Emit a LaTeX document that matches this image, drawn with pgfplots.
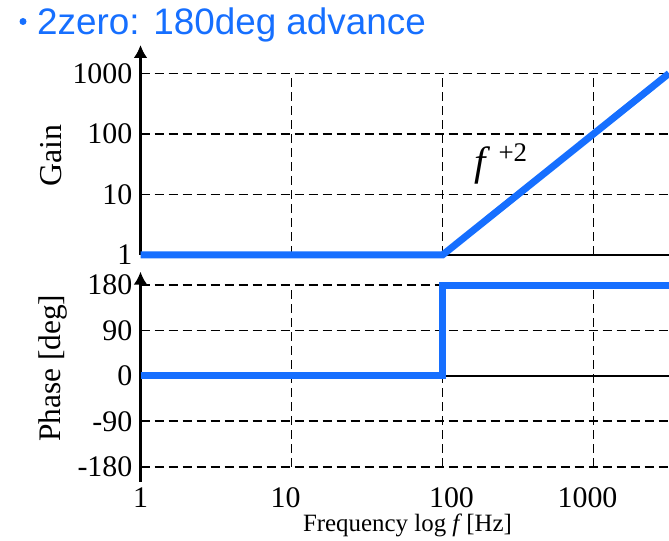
\documentclass[border=0pt]{standalone}
\usepackage{fontspec}
\setmainfont{Liberation Serif}
\newfontfamily\titlefont{Liberation Sans}
\usepackage{pgfplots}
\pgfplotsset{compat=1.18}
\usetikzlibrary{arrows.meta}
\definecolor{bblue}{RGB}{22,111,255}
\begin{document}
\begin{tikzpicture}
\path[use as bounding box] (0bp,0bp) rectangle (669bp,541bp);
\node[anchor=base west, inner sep=0, text=bblue, font=\titlefont\fontsize{37}{37}\selectfont] at (37bp,506bp) {2zero: 180deg advance};
\fill[bblue] (23bp,519.5bp) circle (3.5bp);
\node[rotate=90, anchor=base, inner sep=0, font=\fontsize{32}{32}\selectfont] at (61.7bp,385.2bp) {Gain};
\node[rotate=90, anchor=base, inner sep=0, font=\fontsize{31.5}{31.5}\selectfont] at (60bp,172.7bp) {Phase [deg]};
\node[anchor=base, inner sep=0, font=\fontsize{25}{25}\selectfont] at (407.5bp,10bp) {Frequency log \textit{f}\,[Hz]};

% Gain axis
\begin{axis}[at={(140.5bp,286bp)}, anchor=south west, scale only axis,
  width=528.5bp, height=210bp, xmode=log, ymode=log,
  xmin=1, xmax=3162.3, ymin=1, ymax=2951,
  axis x line=bottom, axis y line=left,
  axis line style={line width=2.6bp},
  x axis line style={-},
  y axis line style={-{Latex[length=13bp,width=14bp]}},
  xtick=\empty, ytick={1,10,100,1000}, yticklabels={1,10,100,1000},
  xminorticks=false, yminorticks=false,
  major tick length=0,
  yticklabel style={font=\fontsize{30}{30}\selectfont, inner sep=0, xshift=-8bp},
  /pgf/number format/assume math mode=true,
  clip=false]
\draw[dash pattern=on 9bp off 5bp, line width=1.6bp] (axis cs:1,10) -- (axis cs:3162.3,10);
\draw[dash pattern=on 9bp off 5bp, line width=1.6bp] (axis cs:1,100) -- (axis cs:3162.3,100);
\draw[dash pattern=on 9bp off 5bp, line width=1.6bp] (axis cs:1,1000) -- (axis cs:3162.3,1000);
\draw[dash pattern=on 9bp off 5bp, line width=1.6bp] (axis cs:10,1) -- (axis cs:10,1000);
\draw[dash pattern=on 9bp off 5bp, line width=1.6bp] (axis cs:100,1) -- (axis cs:100,1000);
\draw[dash pattern=on 9bp off 5bp, line width=1.6bp] (axis cs:1000,1) -- (axis cs:1000,1000);
\addplot[bblue, line width=7bp, line join=miter] coordinates {(1,1) (100,1) (3162.3,1000)};
\end{axis}
\node[anchor=base west, inner sep=0] at (474bp,365bp) {{\fontsize{41}{41}\selectfont\itshape f}\hspace{13bp}\raisebox{14bp}{\fontsize{27}{27}\selectfont +2}};

% Phase axis
\begin{axis}[at={(140.5bp,59.3bp)}, anchor=south west, scale only axis,
  width=528.5bp, height=210bp, xmode=log,
  xmin=1, xmax=3162.3, ymin=-209.7, ymax=206.4,
  axis x line=bottom, axis y line=left,
  axis line style={line width=2.6bp},
  x axis line style={draw=none,-},
  y axis line style={-{Latex[length=13bp,width=14bp]}},
  xtick={1,10,100,1000},
  xticklabels={1,\hspace*{-12bp}10,100\hspace*{-18bp},\hspace*{-12bp}1000},
  ytick={-180,-90,0,90,180}, yticklabels={-180,-90,0,90,180},
  xminorticks=false, yminorticks=false,
  major tick length=0,
  yticklabel style={font=\fontsize{30}{30}\selectfont, inner sep=0, xshift=-8bp},
  xticklabel style={font=\fontsize{30}{30}\selectfont, inner sep=0, anchor=north, yshift=-6bp},
  /pgf/number format/assume math mode=true,
  clip=false]
\draw[dash pattern=on 9bp off 5bp, line width=1.6bp] (axis cs:1,180) -- (axis cs:3162.3,180);
\draw[dash pattern=on 9bp off 5bp, line width=1.6bp] (axis cs:1,90) -- (axis cs:3162.3,90);
\draw[dash pattern=on 9bp off 5bp, line width=1.6bp] (axis cs:1,-90) -- (axis cs:3162.3,-90);
\draw[dash pattern=on 9bp off 5bp, line width=1.6bp] (axis cs:1,-180) -- (axis cs:3162.3,-180);
\draw[dash pattern=on 9bp off 5bp, line width=1.6bp] (axis cs:10,-180) -- (axis cs:10,180);
\draw[dash pattern=on 9bp off 5bp, line width=1.6bp] (axis cs:100,-180) -- (axis cs:100,180);
\draw[dash pattern=on 9bp off 5bp, line width=1.6bp] (axis cs:1000,-180) -- (axis cs:1000,180);
\draw[line width=2.4bp] (axis cs:1,0) -- (axis cs:3162.3,0);
\addplot[bblue, line width=7bp, line join=miter] coordinates {(1,0) (100,0) (100,180) (3162.3,180)};
\end{axis}
\end{tikzpicture}
\end{document}
